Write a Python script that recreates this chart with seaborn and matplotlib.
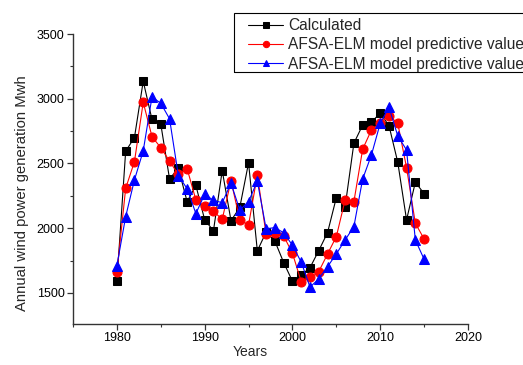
import numpy as np
import pandas as pd
import matplotlib
matplotlib.use("Agg")
import matplotlib.pyplot as plt
from matplotlib.patches import Rectangle
import seaborn as sns

# --- data ---
years = list(range(1980, 2016))

calculated = [1590, 2595, 2700, 3135, 2840, 2805, 2380, 2465, 2205, 2330,
              2065, 1980, 2445, 2058, 2160, 2505, 1825, 1970, 1900, 1735,
              1590, 1639, 1695, 1827, 1966, 2236, 2166, 2656, 2797, 2820,
              2888, 2792, 2509, 2064, 2355, 2267]

afsa_red = [1660, 2308, 2514, 2972, 2707, 2622, 2518, 2415, 2460, 2218,
            2170, 2130, 2069, 2367, 2064, 2025, 2411, 1953, 1961, 1940,
            1807, 1587, 1626, 1665, 1801, 1935, 2218, 2205, 2610, 2759,
            2815, 2869, 2810, 2468, 2038, 1917]

afsa_blue = [1711, 2089, 2373, 2597, 3014, 2965, 2845, 2407, 2305, 2113,
             2262, 2215, 2197, 2347, 2141, 2205, 2364, 1995, 2005, 1965,
             1868, 1738, 1545, 1608, 1703, 1801, 1909, 2012, 2380, 2566,
             2810, 2934, 2712, 2604, 1909, 1760]

labels = ["Calculated",
          "AFSA-ELM model predictive value",
          "AFSA-ELM model predictive value"]

sns.set_style("ticks")
plt.rcParams['font.family'] = ['Liberation Sans', 'DejaVu Sans']

fig = plt.figure(figsize=(5.23, 3.65), dpi=100)
ax = fig.add_axes([73 / 523, 1 - 324 / 365, (468 - 73) / 523, (324 - 34) / 365])

sns.lineplot(x=years, y=calculated, ax=ax, color="black", marker="s",
             markersize=5.5, markeredgecolor="black", linewidth=0.8,
             label=labels[0])
sns.lineplot(x=years, y=afsa_red, ax=ax, color="red", marker="o",
             markersize=6.5, markeredgecolor="red", linewidth=0.8,
             label=labels[1])
sns.lineplot(x=years, y=afsa_blue, ax=ax, color="blue", marker="^",
             markersize=6.5, markeredgecolor="blue", linewidth=0.8,
             label=labels[2])

ax.set_xlim(1975, 2020)
ax.set_ylim(1260, 3500)
ax.set_xticks([1980, 1990, 2000, 2010, 2020])
ax.set_xticks(np.arange(1975, 2021, 5), minor=True)
ax.set_yticks([1500, 2000, 2500, 3000, 3500])
ax.set_yticks(np.arange(1500, 3501, 250), minor=True)

for side in ["top", "right"]:
    ax.spines[side].set_visible(False)
for side in ["left", "bottom"]:
    ax.spines[side].set_color("#333333")
    ax.spines[side].set_linewidth(1.0)

ax.tick_params(which="major", direction="out", length=4, width=0.9,
               color="#333333", labelsize=9, labelcolor="black", pad=2)
ax.tick_params(which="minor", direction="out", length=2.5, width=0.8,
               color="#333333")

ax.set_xlabel("Years", fontsize=10)
ax.set_ylabel("Annual wind power generation Mwh", fontsize=10.7)
ax.xaxis.set_label_coords((250 - 73) / 395, (324 - 345) / 290)
ax.yaxis.set_label_coords((29 - 73) / 395, (324 - 193) / 290)

# legend without its own frame; the box runs off the right edge like the original
leg = ax.legend(loc="upper left", bbox_to_anchor=(248 / 523, 1 - 18 / 365),
                bbox_transform=fig.transFigure, fontsize=11.2, frameon=False,
                handlelength=2.26, markerscale=0.7, borderpad=0,
                labelspacing=0.28, handletextpad=0.32, borderaxespad=0)
fig.patches.append(Rectangle((234 / 523, 1 - 72 / 365), 0.6, 59 / 365,
                             transform=fig.transFigure, fill=False,
                             edgecolor="black", linewidth=0.8))

fig.savefig("out.png", dpi=100)
